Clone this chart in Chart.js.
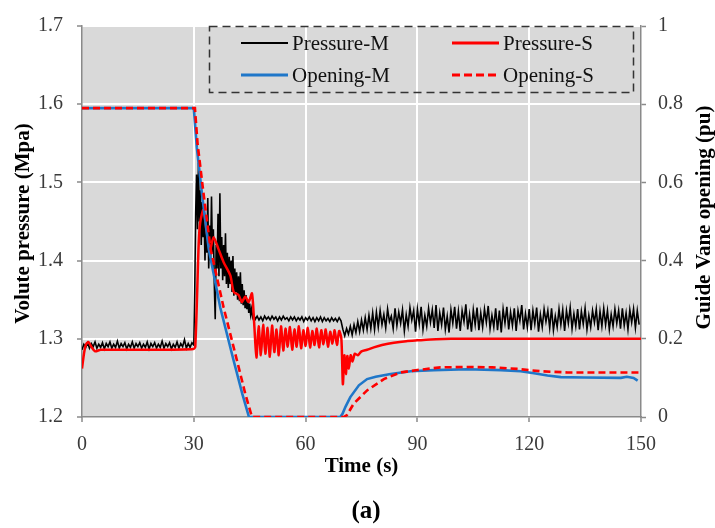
<!DOCTYPE html>
<html>
<head>
<meta charset="utf-8">
<script src="https://cdn.jsdelivr.net/npm/chart.js@4.4.1/dist/chart.umd.min.js"></script>
<style>
  html, body { margin: 0; padding: 0; background: #ffffff; }
  canvas { display: block; }
</style>
</head>
<body>
<canvas id="c" width="715" height="528"></canvas>
<script>
// ---------------- DATA ----------------
const xTicks = [0, 30, 60, 90, 120, 150];
const yLeftTicks = [1.2, 1.3, 1.4, 1.5, 1.6, 1.7];
const yRightTicks = [0, 0.2, 0.4, 0.6, 0.8, 1];

// Pressure-M (measured), uniformly sampled segments
const pmBefore = [ // 0 .. 29.5 s, every 0.5 s
  1.286,1.293,1.289,1.295,1.288,1.294,1.290,1.296,1.288,1.293,
  1.289,1.295,1.287,1.294,1.290,1.296,1.288,1.293,1.289,1.297,
  1.288,1.294,1.290,1.295,1.287,1.293,1.289,1.296,1.288,1.294,
  1.290,1.295,1.288,1.293,1.289,1.296,1.287,1.294,1.290,1.295,
  1.288,1.293,1.289,1.297,1.288,1.294,1.290,1.295,1.287,1.293,
  1.289,1.296,1.288,1.294,1.290,1.299,1.288,1.294,1.289,1.295
];
const pmTransient = [ // 30 .. 46 s, every 0.25 s
  1.292,1.36,1.46,1.51,1.44,1.525,1.45,1.49,1.42,1.475,
  1.43,1.46,1.40,1.45,1.41,1.48,1.39,1.445,1.40,1.482,
  1.41,1.44,1.37,1.325,1.42,1.39,1.46,1.38,1.486,1.39,
  1.43,1.375,1.42,1.38,1.435,1.37,1.41,1.365,1.405,1.37,
  1.40,1.36,1.406,1.355,1.39,1.36,1.385,1.35,1.38,1.348,
  1.385,1.345,1.37,1.343,1.362,1.34,1.356,1.338,1.35,1.333,
  1.345,1.331,1.338,1.328,1.332
];
const pmHold = [ // 46.5 .. 69.5 s, every 0.5 s
  1.325,1.329,1.324,1.328,1.323,1.329,1.325,1.328,1.324,1.329,
  1.325,1.328,1.323,1.328,1.324,1.329,1.325,1.327,1.323,1.328,
  1.324,1.328,1.323,1.327,1.324,1.328,1.322,1.327,1.324,1.328,
  1.323,1.327,1.322,1.327,1.323,1.328,1.322,1.327,1.323,1.326,
  1.322,1.327,1.323,1.326,1.322,1.327,1.323
];
const pmRecovery = [ // 70 .. 149.5 s, every 0.5 s
  1.312,1.304,1.313,1.306,1.316,1.305,1.318,1.308,1.322,1.309,
  1.324,1.311,1.327,1.312,1.330,1.313,1.333,1.312,1.334,1.315,
  1.336,1.318,1.331,1.314,1.338,1.322,1.329,1.313,1.339,1.317,
  1.334,1.320,1.337,1.310,1.331,1.316,1.340,1.324,1.336,1.309,
  1.338,1.319,1.341,1.312,1.330,1.316,1.339,1.321,1.337,1.314,
  1.343,1.310,1.333,1.318,1.340,1.312,1.329,1.308,1.337,1.320,
  1.341,1.313,1.335,1.310,1.336,1.322,1.344,1.312,1.331,1.309,
  1.337,1.318,1.340,1.311,1.333,1.315,1.338,1.321,1.342,1.313,
  1.330,1.315,1.339,1.311,1.336,1.308,1.338,1.320,1.341,1.312,
  1.334,1.317,1.339,1.310,1.336,1.323,1.343,1.312,1.332,1.315,
  1.338,1.311,1.336,1.319,1.340,1.309,1.331,1.315,1.338,1.322,
  1.336,1.314,1.339,1.311,1.329,1.315,1.338,1.318,1.337,1.310,
  1.336,1.320,1.340,1.313,1.332,1.316,1.338,1.312,1.335,1.319,
  1.339,1.312,1.330,1.315,1.336,1.321,1.338,1.311,1.335,1.316,
  1.339,1.318,1.336,1.312,1.331,1.316,1.338,1.320,1.336,1.313,
  1.339,1.317,1.333,1.312,1.337,1.321,1.338,1.314,1.336,1.318
];
const pmSegStart = [0, 30, 46.5, 70];
const pmSegStep = [0.5, 0.25, 0.5, 0.5];

// Pressure-S (simulated)
const psTime = [0,0.5,1,1.7,2.5,3.5,5,10,20,29.9,30.4,31.3,31.7,32.6,33.5,34.4,35.3,36.6,38,39.8,40.7,42,42.9,43.8,44.7,45.6,
  46.2,46.8,47.4,48.0,48.6,49.2,49.8,50.4,51.0,51.6,52.2,52.8,53.4,54.0,54.6,55.2,55.8,56.4,57.0,57.6,58.2,58.8,59.4,60.0,
  60.6,61.2,61.8,62.4,63.0,63.6,64.2,64.8,65.4,66.0,66.6,67.2,67.8,68.4,69.0,69.6,
  70.0,70.4,70.8,71.2,71.6,72.1,72.6,73.2,74.0,75.0,76.5,78.3,80.5,83.7,87,90,95,99,150];
const psValue = [1.262,1.280,1.292,1.296,1.290,1.284,1.286,1.286,1.286,1.287,1.290,1.420,1.448,1.465,1.436,1.415,1.430,1.415,1.398,1.381,1.360,1.356,1.347,1.354,1.347,1.358,
  1.320,1.276,1.316,1.279,1.318,1.281,1.314,1.277,1.317,1.283,1.312,1.279,1.316,1.285,1.313,1.290,1.315,1.286,1.312,1.290,1.316,1.288,1.311,1.291,
  1.314,1.289,1.310,1.292,1.313,1.289,1.311,1.293,1.312,1.290,1.309,1.294,1.311,1.292,1.310,1.300,
  1.242,1.279,1.255,1.278,1.262,1.279,1.271,1.281,1.279,1.284,1.286,1.289,1.292,1.295,1.297,1.298,1.2995,1.300,1.300];

// Opening-M (measured)
const omTime = [0,30,30.8,32.2,34,37.1,40.7,43,44.8,69.3,69.9,70.7,72,74.3,76.5,78.8,82.8,88.2,94.4,103.4,112.4,117.7,121.3,124.9,128.5,134.8,144.6,146.2,148,149.1];
const omValue = [0.79,0.79,0.69,0.57,0.43,0.28,0.144,0.06,0,0,0.008,0.026,0.051,0.081,0.097,0.103,0.110,0.117,0.120,0.122,0.120,0.117,0.112,0.106,0.102,0.101,0.100,0.103,0.100,0.093];

// Opening-S (simulated)
const osTime = [0,30.3,31,32.5,34.5,38,41.6,43.8,45.6,70.2,71.1,72.9,76.5,81,85.5,90,96.2,103.5,110,116.8,123,130.3,140,150];
const osValue = [0.79,0.79,0.70,0.58,0.43,0.28,0.144,0.06,0,0,0.005,0.034,0.068,0.097,0.114,0.120,0.127,0.128,0.127,0.123,0.117,0.114,0.114,0.114];

// ---------------- BUILD ----------------
const pmSegments = [pmBefore, pmTransient, pmHold, pmRecovery];
const pmPoints = [];
pmSegments.forEach((arr, s) => arr.forEach((v, i) => pmPoints.push({ x: pmSegStart[s] + i * pmSegStep[s], y: v })));
const zip = (t, v) => t.map((x, i) => ({ x: x, y: v[i] }));

const FONT = "'Liberation Serif', 'Times New Roman', serif";
Chart.defaults.font.family = FONT;

const bgPlugin = {
  id: 'bg',
  beforeDraw(chart) {
    const a = chart.chartArea, c = chart.ctx;
    c.save();
    c.fillStyle = '#d9d9d9';
    c.fillRect(a.left, a.top, a.right - a.left, a.bottom - a.top);
    c.restore();
  }
};

const textPlugin = {
  id: 'texts',
  afterDraw(chart) {
    const c = chart.ctx;
    const a = chart.chartArea;
    c.save();
    c.fillStyle = '#000';
    c.textAlign = 'center';
    c.textBaseline = 'middle';
    c.font = 'bold 21px ' + FONT;
    c.save();
    c.translate(24, (a.top + a.bottom) / 2 + 2);
    c.rotate(-Math.PI / 2);
    c.fillText('Volute pressure (Mpa)', 0, 0);
    c.restore();
    c.save();
    c.translate(705, (a.top + a.bottom) / 2 - 4);
    c.rotate(-Math.PI / 2);
    c.fillText('Guide Vane opening (pu)', 0, 0);
    c.restore();
    c.fillText('Time (s)', (a.left + a.right) / 2, 467);
    c.font = 'bold 25px ' + FONT;
    c.fillText('(a)', 366, 512);

    // legend
    c.lineWidth = 1.5;
    c.strokeStyle = '#333';
    c.setLineDash([8, 5]);
    c.strokeRect(209.5, 26.5, 424, 66);
    c.setLineDash([]);
    const rows = [
      [{ lbl: 'Pressure-M', col: '#000', lw: 2, dash: [], x: 241 }, { lbl: 'Pressure-S', col: '#ff0000', lw: 3, dash: [], x: 452 }],
      [{ lbl: 'Opening-M', col: '#1f77c9', lw: 3, dash: [], x: 241 }, { lbl: 'Opening-S', col: '#ff0000', lw: 3, dash: [8, 4], x: 452 }]
    ];
    const ys = [43, 75];
    c.font = '21px ' + FONT;
    c.textAlign = 'left';
    rows.forEach((r, ri) => {
      r.forEach(it => {
        c.beginPath();
        c.strokeStyle = it.col;
        c.lineWidth = it.lw;
        c.setLineDash(it.dash);
        c.moveTo(it.x, ys[ri]);
        c.lineTo(it.x + 47, ys[ri]);
        c.stroke();
        c.setLineDash([]);
        c.fillStyle = '#111';
        c.fillText(it.lbl, it.x + 51, ys[ri] + 1);
      });
    });
    c.restore();
  }
};

const axisGrey = '#8a8a8a';
const tickFont = { family: FONT, size: 20 };

new Chart(document.getElementById('c'), {
  type: 'line',
  data: {
    datasets: [
      { label: 'Opening-S', data: zip(osTime, osValue), yAxisID: 'y2', borderColor: '#ff0000', borderWidth: 2.6, borderDash: [7, 4], pointRadius: 0, fill: false, order: 0 },
      { label: 'Opening-M', data: zip(omTime, omValue), yAxisID: 'y2', borderColor: '#1f77c9', borderWidth: 2.6, pointRadius: 0, fill: false, order: 1 },
      { label: 'Pressure-S', data: zip(psTime, psValue), yAxisID: 'y', borderColor: '#ff0000', borderWidth: 2.5, pointRadius: 0, fill: false, order: 2, tension: 0.25 },
      { label: 'Pressure-M', data: pmPoints, yAxisID: 'y', borderColor: '#000000', borderWidth: 1.6, pointRadius: 0, fill: false, order: 3 }
    ]
  },
  options: {
    responsive: false,
    animation: false,
    devicePixelRatio: 1,
    layout: { padding: { top: 20, left: 0, right: 0, bottom: 0 } },
    plugins: { legend: { display: false }, tooltip: { enabled: false } },
    scales: {
      x: {
        type: 'linear', min: 0, max: 150,
        afterBuildTicks: s => { s.ticks = xTicks.map(v => ({ value: v })); },
        afterFit: s => { s.height = 111; },
        ticks: { font: tickFont, color: '#3a3a3a', padding: 11, maxRotation: 0 },
        grid: {
          color: ctx => (ctx.tick && (ctx.tick.value === 0 || ctx.tick.value === 150)) ? 'rgba(0,0,0,0)' : '#ffffff',
          lineWidth: 2, tickColor: axisGrey, tickLength: 5, tickWidth: 1.5
        },
        border: { display: true, color: axisGrey, width: 1.5 }
      },
      y: {
        type: 'linear', position: 'left', min: 1.2, max: 1.7,
        afterBuildTicks: s => { s.ticks = yLeftTicks.map(v => ({ value: v })); },
        afterFit: s => { s.width = 82; },
        ticks: { font: tickFont, color: '#3a3a3a', padding: 14, callback: v => Number(v).toFixed(1) },
        grid: {
          color: ctx => (ctx.tick && Math.abs(ctx.tick.value - 1.2) < 1e-6) ? 'rgba(0,0,0,0)' : '#ffffff',
          lineWidth: 2, tickColor: axisGrey, tickLength: 5, tickWidth: 1.5
        },
        border: { display: true, color: axisGrey, width: 1.5 }
      },
      y2: {
        type: 'linear', position: 'right', min: 0, max: 1,
        afterBuildTicks: s => { s.ticks = yRightTicks.map(v => ({ value: v })); },
        afterFit: s => { s.width = 74; },
        ticks: { font: tickFont, color: '#3a3a3a', padding: 12, callback: v => (v === 0 || v === 1) ? String(v) : Number(v).toFixed(1) },
        grid: { drawOnChartArea: false, tickColor: axisGrey, tickLength: 5, tickWidth: 1.5 },
        border: { display: true, color: axisGrey, width: 1.5 }
      }
    }
  },
  plugins: [bgPlugin, textPlugin]
});
</script>
</body>
</html>
